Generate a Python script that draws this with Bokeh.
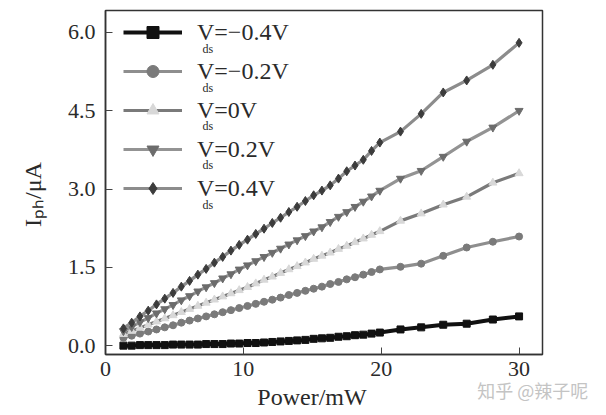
from bokeh.plotting import figure
from bokeh.models import (Range1d, FixedTicker, NumeralTickFormatter, Legend, LegendItem,
                          Label, ColumnDataSource, LinearAxis)
from bokeh.embed import file_html
from bokeh.resources import INLINE

# ---- data ----
power = [1.3, 1.9, 2.5, 3.1, 3.7, 4.3, 4.9, 5.5, 6.1, 6.7, 7.3, 7.9, 8.5, 9.1, 9.7,
         10.3, 10.9, 11.5, 12.1, 12.7, 13.3, 13.9, 14.5, 15.1, 15.7, 16.3, 16.9, 17.5,
         18.1, 18.7, 19.3, 19.9, 21.4, 22.9, 24.5, 26.2, 28.1, 30.0]

i_m04 = [0.00, 0.00, 0.01, 0.01, 0.01, 0.01, 0.02, 0.02, 0.02, 0.02, 0.03, 0.03, 0.03, 0.04,
         0.04, 0.05, 0.05, 0.06, 0.07, 0.08, 0.09, 0.10, 0.11, 0.13, 0.14, 0.15, 0.17, 0.18,
         0.20, 0.21, 0.23, 0.25, 0.31, 0.35, 0.40, 0.42, 0.50, 0.56]
i_m02 = [0.15, 0.19, 0.23, 0.27, 0.31, 0.35, 0.39, 0.44, 0.48, 0.52, 0.56, 0.60, 0.64, 0.68,
         0.72, 0.76, 0.80, 0.84, 0.88, 0.92, 0.97, 1.01, 1.05, 1.09, 1.13, 1.18, 1.22, 1.27,
         1.31, 1.36, 1.41, 1.46, 1.51, 1.57, 1.72, 1.88, 1.99, 2.09]
i_0 = [0.22, 0.28, 0.34, 0.40, 0.46, 0.52, 0.58, 0.64, 0.70, 0.76, 0.82, 0.88, 0.94, 1.00,
       1.06, 1.12, 1.19, 1.26, 1.32, 1.39, 1.46, 1.52, 1.59, 1.66, 1.72, 1.78, 1.85, 1.91,
       1.98, 2.05, 2.12, 2.19, 2.39, 2.53, 2.70, 2.85, 3.12, 3.30]
i_p02 = [0.28, 0.36, 0.45, 0.53, 0.62, 0.70, 0.78, 0.87, 0.95, 1.04, 1.12, 1.20, 1.29, 1.37,
         1.46, 1.54, 1.62, 1.70, 1.78, 1.86, 1.94, 2.02, 2.10, 2.19, 2.27, 2.37, 2.47, 2.56,
         2.66, 2.76, 2.86, 2.97, 3.20, 3.35, 3.62, 3.91, 4.18, 4.50]
i_p04 = [0.33, 0.44, 0.56, 0.67, 0.79, 0.90, 1.01, 1.13, 1.24, 1.36, 1.47, 1.59, 1.70, 1.82,
         1.93, 2.03, 2.14, 2.24, 2.35, 2.45, 2.56, 2.66, 2.77, 2.88, 2.97, 3.07, 3.20, 3.34,
         3.45, 3.56, 3.73, 3.89, 4.10, 4.44, 4.85, 5.08, 5.38, 5.80]

series_labels = ["V=\u22120.4V", "V=\u22120.2V", "V=0V", "V=0.2V", "V=0.4V"]
x_ticks = [0, 10, 20, 30]
y_ticks = [0.0, 1.5, 3.0, 4.5, 6.0]
x_title = "Power/mW"
y_title = "I\u209a\u2095/\u03bcA"
watermark = "知乎 @辣子呢"

FONT = "Liberation Serif"
NB = "\u00a0"
WM_POS = 31  # horizontal anchor of the watermark (x units)

p = figure(width=606, height=415, output_backend="svg", toolbar_location=None,
           x_range=Range1d(0, 31.7), y_range=Range1d(-0.17, 6.42),
           min_border_left=105, min_border_right=64, min_border_top=10, min_border_bottom=61)
p.background_fill_color = "white"
p.border_fill_color = "white"
p.outline_line_color = "#333333"
p.outline_line_width = 1.5
p.xgrid.visible = False
p.ygrid.visible = False

for ax in (p.xaxis[0], p.yaxis[0]):
    ax.axis_line_color = "#333333"
    ax.axis_line_width = 1.5
    ax.major_tick_in = 7
    ax.major_tick_out = 0
    ax.major_tick_line_color = "#444444"
    ax.minor_tick_line_color = None
    ax.major_label_text_font = FONT
    ax.major_label_text_font_size = "22px"
    ax.major_label_text_color = "#2a2a2a"
    ax.axis_label_text_font = FONT
    ax.axis_label_text_font_size = "24px"
    ax.axis_label_text_font_style = "normal"
    ax.axis_label_text_color = "#2a2a2a"

p.xaxis.ticker = FixedTicker(ticks=x_ticks)
p.yaxis.ticker = FixedTicker(ticks=y_ticks)
p.yaxis.formatter = NumeralTickFormatter(format="0.0")
p.xaxis.major_label_standoff = 7
p.yaxis.major_label_standoff = 10
p.xaxis.axis_label = x_title + NB * 4
p.xaxis.axis_label_standoff = 5
p.yaxis.axis_label = y_title + NB * 4
p.yaxis.axis_label_standoff = 19

# watermark drawn as the single label of an extra, line-less axis below the main one
wm_axis = LinearAxis(ticker=FixedTicker(ticks=[WM_POS]),
                     major_label_overrides={WM_POS: watermark},
                     axis_line_color=None, major_tick_line_color=None,
                     minor_tick_line_color=None, major_tick_in=0, major_tick_out=0,
                     major_label_text_font="Noto Sans CJK SC",
                     major_label_text_font_size="18px",
                     major_label_text_color="#c4c4c4",
                     major_label_standoff=-36)
p.add_layout(wm_axis, "below")

styles = [
    # line color, line width, marker, marker color, marker size
    ("#111111", 4.0, "square", "#111111", 7),
    ("#8e8e8e", 3.2, "circle", "#7a7a7a", 7),
    ("#7a7a7a", 3.2, "triangle", "#d8d8d8", 8),
    ("#939393", 3.2, "inverted_triangle", "#6c6c6c", 8),
    ("#8c8c8c", 3.2, "diamond", "#3c3c3c", 9),
]
all_series = [i_m04, i_m02, i_0, i_p02, i_p04]

items = []
for lab, ys, (lc, lw, mk, mc, ms) in zip(series_labels, all_series, styles):
    src = ColumnDataSource(dict(x=power, y=ys))
    r1 = p.line("x", "y", source=src, line_color=lc, line_width=lw)
    r2 = p.scatter("x", "y", source=src, marker=mk, size=ms, fill_color=mc,
                   line_color=mc, line_width=1)
    items.append(LegendItem(label=lab, renderers=[r1, r2]))

legend = Legend(items=items, location=(14, 147), margin=0, padding=4,
                glyph_width=59, glyph_height=30, label_height=30, spacing=9,
                label_standoff=15, label_text_font=FONT, label_text_font_size="24px",
                label_text_color="#2a2a2a", background_fill_alpha=0, border_line_alpha=0)
p.add_layout(legend, "center")

# subscripts "ds" under each legend "V"
centers = [32, 71, 109, 148, 188]
for c in centers:
    p.add_layout(Label(x=97, y=354 - (c + 16), x_units="screen", y_units="screen",
                       text="ds", text_font=FONT, text_font_size="12px",
                       text_color="#2a2a2a", text_baseline="alphabetic"))

open("out.html", "w").write(file_html(p, INLINE))
